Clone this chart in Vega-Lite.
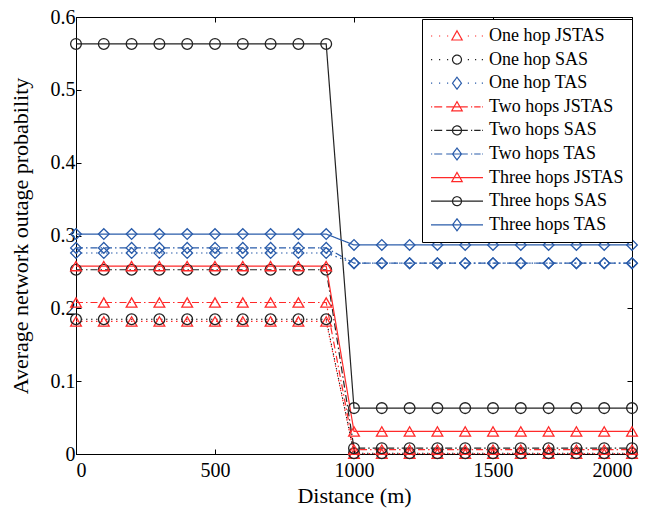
{
  "$schema": "https://vega.github.io/schema/vega-lite/v6.json",
  "width": 556,
  "height": 437,
  "autosize": {"type": "none"},
  "padding": {"left": 76, "top": 17, "right": 25, "bottom": 55},
  "background": "white",
  "datasets": {
    "pts": [
      {"series":"One hop JSTAS","distance":0,"prob":0.182},{"series":"One hop JSTAS","distance":100,"prob":0.182},{"series":"One hop JSTAS","distance":200,"prob":0.182},{"series":"One hop JSTAS","distance":300,"prob":0.182},{"series":"One hop JSTAS","distance":400,"prob":0.182},{"series":"One hop JSTAS","distance":500,"prob":0.182},{"series":"One hop JSTAS","distance":600,"prob":0.182},{"series":"One hop JSTAS","distance":700,"prob":0.182},{"series":"One hop JSTAS","distance":800,"prob":0.182},{"series":"One hop JSTAS","distance":900,"prob":0.182},
      {"series":"One hop JSTAS","distance":1000,"prob":0.0005},{"series":"One hop JSTAS","distance":1100,"prob":0.0005},{"series":"One hop JSTAS","distance":1200,"prob":0.0005},{"series":"One hop JSTAS","distance":1300,"prob":0.0005},{"series":"One hop JSTAS","distance":1400,"prob":0.0005},{"series":"One hop JSTAS","distance":1500,"prob":0.0005},{"series":"One hop JSTAS","distance":1600,"prob":0.0005},{"series":"One hop JSTAS","distance":1700,"prob":0.0005},{"series":"One hop JSTAS","distance":1800,"prob":0.0005},{"series":"One hop JSTAS","distance":1900,"prob":0.0005},{"series":"One hop JSTAS","distance":2000,"prob":0.0005},

      {"series":"One hop SAS","distance":0,"prob":0.185},{"series":"One hop SAS","distance":100,"prob":0.185},{"series":"One hop SAS","distance":200,"prob":0.185},{"series":"One hop SAS","distance":300,"prob":0.185},{"series":"One hop SAS","distance":400,"prob":0.185},{"series":"One hop SAS","distance":500,"prob":0.185},{"series":"One hop SAS","distance":600,"prob":0.185},{"series":"One hop SAS","distance":700,"prob":0.185},{"series":"One hop SAS","distance":800,"prob":0.185},{"series":"One hop SAS","distance":900,"prob":0.185},
      {"series":"One hop SAS","distance":1000,"prob":0.001},{"series":"One hop SAS","distance":1100,"prob":0.001},{"series":"One hop SAS","distance":1200,"prob":0.001},{"series":"One hop SAS","distance":1300,"prob":0.001},{"series":"One hop SAS","distance":1400,"prob":0.001},{"series":"One hop SAS","distance":1500,"prob":0.001},{"series":"One hop SAS","distance":1600,"prob":0.001},{"series":"One hop SAS","distance":1700,"prob":0.001},{"series":"One hop SAS","distance":1800,"prob":0.001},{"series":"One hop SAS","distance":1900,"prob":0.001},{"series":"One hop SAS","distance":2000,"prob":0.001},

      {"series":"One hop TAS","distance":0,"prob":0.276},{"series":"One hop TAS","distance":100,"prob":0.276},{"series":"One hop TAS","distance":200,"prob":0.276},{"series":"One hop TAS","distance":300,"prob":0.276},{"series":"One hop TAS","distance":400,"prob":0.276},{"series":"One hop TAS","distance":500,"prob":0.276},{"series":"One hop TAS","distance":600,"prob":0.276},{"series":"One hop TAS","distance":700,"prob":0.276},{"series":"One hop TAS","distance":800,"prob":0.276},{"series":"One hop TAS","distance":900,"prob":0.276},
      {"series":"One hop TAS","distance":1000,"prob":0.262},{"series":"One hop TAS","distance":1100,"prob":0.262},{"series":"One hop TAS","distance":1200,"prob":0.262},{"series":"One hop TAS","distance":1300,"prob":0.262},{"series":"One hop TAS","distance":1400,"prob":0.262},{"series":"One hop TAS","distance":1500,"prob":0.262},{"series":"One hop TAS","distance":1600,"prob":0.262},{"series":"One hop TAS","distance":1700,"prob":0.262},{"series":"One hop TAS","distance":1800,"prob":0.262},{"series":"One hop TAS","distance":1900,"prob":0.262},{"series":"One hop TAS","distance":2000,"prob":0.262},

      {"series":"Two hops JSTAS","distance":0,"prob":0.208},{"series":"Two hops JSTAS","distance":100,"prob":0.208},{"series":"Two hops JSTAS","distance":200,"prob":0.208},{"series":"Two hops JSTAS","distance":300,"prob":0.208},{"series":"Two hops JSTAS","distance":400,"prob":0.208},{"series":"Two hops JSTAS","distance":500,"prob":0.208},{"series":"Two hops JSTAS","distance":600,"prob":0.208},{"series":"Two hops JSTAS","distance":700,"prob":0.208},{"series":"Two hops JSTAS","distance":800,"prob":0.208},{"series":"Two hops JSTAS","distance":900,"prob":0.208},
      {"series":"Two hops JSTAS","distance":1000,"prob":0.006},{"series":"Two hops JSTAS","distance":1100,"prob":0.006},{"series":"Two hops JSTAS","distance":1200,"prob":0.006},{"series":"Two hops JSTAS","distance":1300,"prob":0.006},{"series":"Two hops JSTAS","distance":1400,"prob":0.006},{"series":"Two hops JSTAS","distance":1500,"prob":0.006},{"series":"Two hops JSTAS","distance":1600,"prob":0.006},{"series":"Two hops JSTAS","distance":1700,"prob":0.006},{"series":"Two hops JSTAS","distance":1800,"prob":0.006},{"series":"Two hops JSTAS","distance":1900,"prob":0.006},{"series":"Two hops JSTAS","distance":2000,"prob":0.006},

      {"series":"Two hops SAS","distance":0,"prob":0.253},{"series":"Two hops SAS","distance":100,"prob":0.253},{"series":"Two hops SAS","distance":200,"prob":0.253},{"series":"Two hops SAS","distance":300,"prob":0.253},{"series":"Two hops SAS","distance":400,"prob":0.253},{"series":"Two hops SAS","distance":500,"prob":0.253},{"series":"Two hops SAS","distance":600,"prob":0.253},{"series":"Two hops SAS","distance":700,"prob":0.253},{"series":"Two hops SAS","distance":800,"prob":0.253},{"series":"Two hops SAS","distance":900,"prob":0.253},
      {"series":"Two hops SAS","distance":1000,"prob":0.008},{"series":"Two hops SAS","distance":1100,"prob":0.008},{"series":"Two hops SAS","distance":1200,"prob":0.008},{"series":"Two hops SAS","distance":1300,"prob":0.008},{"series":"Two hops SAS","distance":1400,"prob":0.008},{"series":"Two hops SAS","distance":1500,"prob":0.008},{"series":"Two hops SAS","distance":1600,"prob":0.008},{"series":"Two hops SAS","distance":1700,"prob":0.008},{"series":"Two hops SAS","distance":1800,"prob":0.008},{"series":"Two hops SAS","distance":1900,"prob":0.008},{"series":"Two hops SAS","distance":2000,"prob":0.008},

      {"series":"Two hops TAS","distance":0,"prob":0.283},{"series":"Two hops TAS","distance":100,"prob":0.283},{"series":"Two hops TAS","distance":200,"prob":0.283},{"series":"Two hops TAS","distance":300,"prob":0.283},{"series":"Two hops TAS","distance":400,"prob":0.283},{"series":"Two hops TAS","distance":500,"prob":0.283},{"series":"Two hops TAS","distance":600,"prob":0.283},{"series":"Two hops TAS","distance":700,"prob":0.283},{"series":"Two hops TAS","distance":800,"prob":0.283},{"series":"Two hops TAS","distance":900,"prob":0.283},
      {"series":"Two hops TAS","distance":1000,"prob":0.262},{"series":"Two hops TAS","distance":1100,"prob":0.262},{"series":"Two hops TAS","distance":1200,"prob":0.262},{"series":"Two hops TAS","distance":1300,"prob":0.262},{"series":"Two hops TAS","distance":1400,"prob":0.262},{"series":"Two hops TAS","distance":1500,"prob":0.262},{"series":"Two hops TAS","distance":1600,"prob":0.262},{"series":"Two hops TAS","distance":1700,"prob":0.262},{"series":"Two hops TAS","distance":1800,"prob":0.262},{"series":"Two hops TAS","distance":1900,"prob":0.262},{"series":"Two hops TAS","distance":2000,"prob":0.262},

      {"series":"Three hops JSTAS","distance":0,"prob":0.258},{"series":"Three hops JSTAS","distance":100,"prob":0.258},{"series":"Three hops JSTAS","distance":200,"prob":0.258},{"series":"Three hops JSTAS","distance":300,"prob":0.258},{"series":"Three hops JSTAS","distance":400,"prob":0.258},{"series":"Three hops JSTAS","distance":500,"prob":0.258},{"series":"Three hops JSTAS","distance":600,"prob":0.258},{"series":"Three hops JSTAS","distance":700,"prob":0.258},{"series":"Three hops JSTAS","distance":800,"prob":0.258},{"series":"Three hops JSTAS","distance":900,"prob":0.258},
      {"series":"Three hops JSTAS","distance":1000,"prob":0.031},{"series":"Three hops JSTAS","distance":1100,"prob":0.031},{"series":"Three hops JSTAS","distance":1200,"prob":0.031},{"series":"Three hops JSTAS","distance":1300,"prob":0.031},{"series":"Three hops JSTAS","distance":1400,"prob":0.031},{"series":"Three hops JSTAS","distance":1500,"prob":0.031},{"series":"Three hops JSTAS","distance":1600,"prob":0.031},{"series":"Three hops JSTAS","distance":1700,"prob":0.031},{"series":"Three hops JSTAS","distance":1800,"prob":0.031},{"series":"Three hops JSTAS","distance":1900,"prob":0.031},{"series":"Three hops JSTAS","distance":2000,"prob":0.031},

      {"series":"Three hops SAS","distance":0,"prob":0.563},{"series":"Three hops SAS","distance":100,"prob":0.563},{"series":"Three hops SAS","distance":200,"prob":0.563},{"series":"Three hops SAS","distance":300,"prob":0.563},{"series":"Three hops SAS","distance":400,"prob":0.563},{"series":"Three hops SAS","distance":500,"prob":0.563},{"series":"Three hops SAS","distance":600,"prob":0.563},{"series":"Three hops SAS","distance":700,"prob":0.563},{"series":"Three hops SAS","distance":800,"prob":0.563},{"series":"Three hops SAS","distance":900,"prob":0.563},
      {"series":"Three hops SAS","distance":1000,"prob":0.063},{"series":"Three hops SAS","distance":1100,"prob":0.063},{"series":"Three hops SAS","distance":1200,"prob":0.063},{"series":"Three hops SAS","distance":1300,"prob":0.063},{"series":"Three hops SAS","distance":1400,"prob":0.063},{"series":"Three hops SAS","distance":1500,"prob":0.063},{"series":"Three hops SAS","distance":1600,"prob":0.063},{"series":"Three hops SAS","distance":1700,"prob":0.063},{"series":"Three hops SAS","distance":1800,"prob":0.063},{"series":"Three hops SAS","distance":1900,"prob":0.063},{"series":"Three hops SAS","distance":2000,"prob":0.063},

      {"series":"Three hops TAS","distance":0,"prob":0.302},{"series":"Three hops TAS","distance":100,"prob":0.302},{"series":"Three hops TAS","distance":200,"prob":0.302},{"series":"Three hops TAS","distance":300,"prob":0.302},{"series":"Three hops TAS","distance":400,"prob":0.302},{"series":"Three hops TAS","distance":500,"prob":0.302},{"series":"Three hops TAS","distance":600,"prob":0.302},{"series":"Three hops TAS","distance":700,"prob":0.302},{"series":"Three hops TAS","distance":800,"prob":0.302},{"series":"Three hops TAS","distance":900,"prob":0.302},
      {"series":"Three hops TAS","distance":1000,"prob":0.287},{"series":"Three hops TAS","distance":1100,"prob":0.287},{"series":"Three hops TAS","distance":1200,"prob":0.287},{"series":"Three hops TAS","distance":1300,"prob":0.287},{"series":"Three hops TAS","distance":1400,"prob":0.287},{"series":"Three hops TAS","distance":1500,"prob":0.287},{"series":"Three hops TAS","distance":1600,"prob":0.287},{"series":"Three hops TAS","distance":1700,"prob":0.287},{"series":"Three hops TAS","distance":1800,"prob":0.287},{"series":"Three hops TAS","distance":1900,"prob":0.287},{"series":"Three hops TAS","distance":2000,"prob":0.287}
    ]
  },
  "data": {"name": "pts"},
  "encoding": {
    "color": {"field": "series", "type": "nominal",
      "scale": {"domain": ["One hop JSTAS","One hop SAS","One hop TAS","Two hops JSTAS","Two hops SAS","Two hops TAS","Three hops JSTAS","Three hops SAS","Three hops TAS"],
                "range": ["#ff2a2a","#222222","#2a5caa","#ff2a2a","#222222","#2a5caa","#ff2a2a","#222222","#2a5caa"]},
      "legend": {
        "orient": "none", "legendX": 346, "legendY": 2, "title": null,
        "symbolSize": 256, "labelOffset": 41, "padding": 8, "rowPadding": 5.6,
        "labelFont": "Liberation Serif", "labelFontSize": 18, "labelColor": "black",
        "strokeColor": "black", "fillColor": "white", "symbolStrokeWidth": 1.2,
        "symbolFillColor": "transparent", "symbolOpacity": 1,
        "labelLimit": 300,
        "encode": {"symbols": {"update": {
          "strokeDash": {"value": [1, 0]},
          "shape": {"signal": "datum.value === 'One hop JSTAS' ? 'M-1,0h0.15M0,0h0.15M1,0h0.15M3.6,0h0.15M4.5,0h0.15M5.35,0h0.15M2.25,-0.65L2.9,0.5L1.6,0.5Z' : datum.value === 'One hop SAS' ? 'M-1,0h0.15M0,0h0.15M1,0h0.15M3.6,0h0.15M4.5,0h0.15M5.35,0h0.15M2.81,0A0.56,0.56 0 1,1 1.69,0A0.56,0.56 0 1,1 2.81,0Z' : datum.value === 'One hop TAS' ? 'M-1,0h0.15M0,0h0.15M1,0h0.15M3.6,0h0.15M4.5,0h0.15M5.35,0h0.15M2.25,-0.75L2.81,0L2.25,0.75L1.69,0Z' : datum.value === 'Two hops JSTAS' ? 'M-1,0h0.15M-0.6,0h1M0.9,0h2.7M4,0h0.15M4.4,0h0.8M5.4,0h0.1M2.25,-0.65L2.9,0.5L1.6,0.5Z' : datum.value === 'Two hops SAS' ? 'M-1,0h0.15M-0.6,0h1M0.9,0h2.7M4,0h0.15M4.4,0h0.8M5.4,0h0.1M2.81,0A0.56,0.56 0 1,1 1.69,0A0.56,0.56 0 1,1 2.81,0Z' : datum.value === 'Two hops TAS' ? 'M-1,0h0.15M-0.6,0h1M0.9,0h2.7M4,0h0.15M4.4,0h0.8M5.4,0h0.1M2.25,-0.75L2.81,0L2.25,0.75L1.69,0Z' : datum.value === 'Three hops JSTAS' ? 'M-1,0H5.5M2.25,-0.65L2.9,0.5L1.6,0.5Z' : datum.value === 'Three hops SAS' ? 'M-1,0H5.5M2.81,0A0.56,0.56 0 1,1 1.69,0A0.56,0.56 0 1,1 2.81,0Z' : 'M-1,0H5.5M2.25,-0.75L2.81,0L2.25,0.75L1.69,0Z'"}
        }}}
      }
    }
  },
  "layer": [
    {
      "mark": {"type": "line", "strokeWidth": 1.2},
      "encoding": {
        "x": {"field": "distance", "type": "quantitative",
          "scale": {"domain": [0, 2000], "nice": false, "zero": false},
          "axis": {"values": [0, 500, 1000, 1500, 2000], "format": "d", "title": "Distance (m)", "titlePadding": 5, "labelPadding": 11}},
        "y": {"field": "prob", "type": "quantitative",
          "scale": {"domain": [0, 0.6], "nice": false},
          "axis": {"values": [0, 0.1, 0.2, 0.3, 0.4, 0.5, 0.6], "format": "~g", "title": "Average network outage probability", "titlePadding": 18, "labelPadding": 6}},
        "strokeDash": {"field": "series", "type": "nominal", "legend": null,
          "scale": {"domain": ["One hop SAS","One hop JSTAS","One hop TAS","Two hops SAS","Two hops JSTAS","Two hops TAS","Three hops SAS","Three hops JSTAS","Three hops TAS"],
                    "range": [[1.5,3.5],[1.5,3.5],[1.5,3.5],[7,3,1.5,3],[7,3,1.5,3],[7,3,1.5,3],[1,0],[1,0],[1,0]]}}
      }
    },
    {
      "mark": {"type": "point", "filled": false, "size": 115, "strokeWidth": 1.3, "opacity": 1},
      "encoding": {
        "x": {"field": "distance", "type": "quantitative",
          "axis": {"orient": "top", "values": [0, 500, 1000, 1500, 2000], "labels": false, "title": null, "domain": false}},
        "y": {"field": "prob", "type": "quantitative",
          "axis": {"orient": "right", "values": [0, 0.1, 0.2, 0.3, 0.4, 0.5, 0.6], "labels": false, "title": null, "domain": false}},
        "shape": {"field": "series", "type": "nominal", "legend": null,
          "scale": {"domain": ["Three hops TAS","Three hops SAS","Three hops JSTAS","Two hops TAS","Two hops SAS","Two hops JSTAS","One hop TAS","One hop SAS","One hop JSTAS"],
                    "range": ["diamond","circle","triangle-up","diamond","circle","triangle-up","diamond","circle","triangle-up"]}}
      }
    }
  ],
  "resolve": {"axis": {"x": "independent", "y": "independent"}},
  "config": {
    "view": {"stroke": "black", "strokeWidth": 1},
    "font": "Liberation Serif",
    "axis": {
      "grid": false, "domainColor": "black", "tickColor": "black", "tickSize": -5,
      "labelFont": "Liberation Serif", "labelFontSize": 20, "labelColor": "black",
      "titleFont": "Liberation Serif", "titleFontSize": 22, "titleColor": "black", "titleFontWeight": "normal"
    }
  }
}
